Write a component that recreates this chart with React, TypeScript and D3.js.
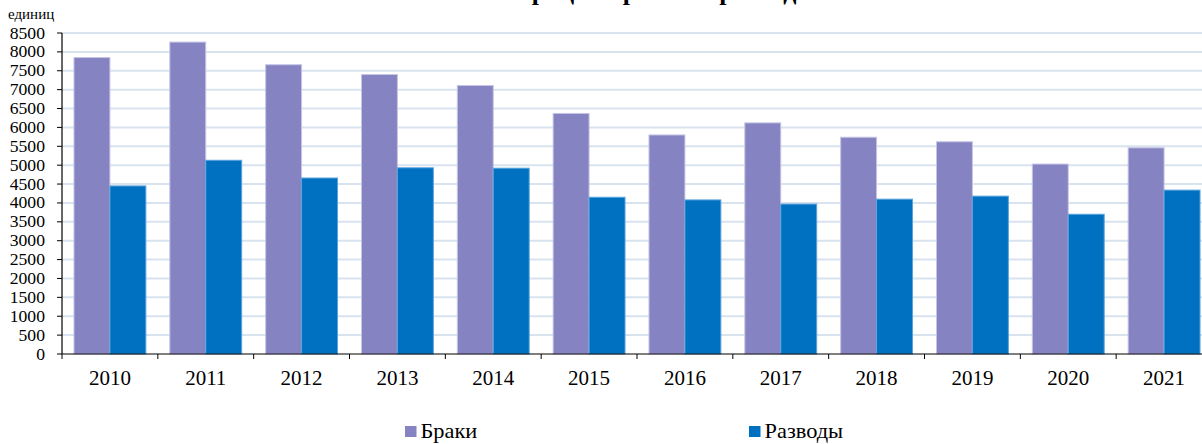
import React from 'react';
import * as d3 from 'd3';

const years = ['2010', '2011', '2012', '2013', '2014', '2015', '2016', '2017', '2018', '2019', '2020', '2021'];
const braki = [7850, 8260, 7660, 7400, 7110, 6370, 5800, 6120, 5740, 5620, 5030, 5460];
const razvody = [4450, 5130, 4660, 4930, 4920, 4150, 4080, 3970, 4100, 4180, 3700, 4340];
const seriesNames = ['Браки', 'Разводы'];
const yTicks = d3.range(0, 8501, 500);

const width = 1202;
const height = 444;
const margin = { top: 33, left: 62, bottom: 90 };
const plotRight = 1212; // plot runs past the window edge, like the source image
const font = 'Liberation Serif, Times New Roman, DejaVu Serif, serif';
const colors = ['#8583c1', '#0070c0'];
const strokes = ['#c6c5e6', '#5aa3dc'];

export default function App() {
    const x = d3.scaleBand<string>()
        .domain(years)
        .range([margin.left, plotRight])
        .paddingInner(0.25)
        .paddingOuter(0.125);
    const step = x.step();
    const xs = d3.scaleBand<string>().domain(seriesNames).range([0, x.bandwidth()]);
    const y = d3.scaleLinear().domain([0, 8500]).range([height - margin.bottom, margin.top]);
    const y0 = y(0);

    const series = [braki, razvody];

    return (
        <div style={{ position: 'absolute', left: 0, top: 0 }}>
            <svg width={width} height={height} style={{ display: 'block', background: '#fff', fontFamily: font }}>
                {/* title, mostly cut off at the top like in the source */}
                <text x={638} y={0} textAnchor="middle" fontWeight="bold" fontSize={26}>
                    Регистрация браков и разводов
                </text>
                <text x={8} y={19} fontSize={15}>единиц</text>

                {/* grid */}
                {yTicks.filter(t => t > 0).map(t => (
                    <line key={t} x1={margin.left} x2={width} y1={y(t)} y2={y(t)}
                        stroke="#d9e3f0" strokeWidth={2} />
                ))}

                {/* bars */}
                {series.map((vals, si) => vals.map((v, i) => (
                    <rect key={si + '-' + i}
                        x={(x(years[i]) as number) + (xs(seriesNames[si]) as number)}
                        y={y(v)}
                        width={xs.bandwidth()}
                        height={y0 - y(v)}
                        fill={colors[si]}
                        stroke={strokes[si]}
                        strokeWidth={1} />
                )))}

                {/* y axis */}
                <line x1={margin.left} x2={margin.left} y1={y(8500)} y2={y0} stroke="#000" strokeWidth={1.2} />
                {yTicks.map(t => (
                    <g key={t}>
                        <line x1={margin.left - 5} x2={margin.left} y1={y(t)} y2={y(t)} stroke="#000" />
                        <text transform={`translate(45,${y(t) + 5.5}) scale(1.07,1)`} textAnchor="end"
                            fontSize={16.5}>{t}</text>
                    </g>
                ))}

                {/* x axis */}
                <line x1={margin.left} x2={width} y1={y0} y2={y0} stroke="#000" strokeWidth={1.2} />
                {d3.range(years.length + 1).map(k => (
                    <line key={k} x1={margin.left + k * step} x2={margin.left + k * step}
                        y1={y0} y2={y0 + 5} stroke="#000" />
                ))}
                {years.map(yr => (
                    <text key={yr} x={(x(yr) as number) + x.bandwidth() / 2} y={385}
                        textAnchor="middle" fontSize={21}>{yr}</text>
                ))}

                {/* legend */}
                {seriesNames.map((name, i) => {
                    const lx = i === 0 ? 405 : 749;
                    return (
                        <g key={name}>
                            <rect x={lx} y={426} width={11.5} height={11} fill={colors[i]} />
                            <text transform={`translate(${lx + 15.5},437.5) scale(1.12,1)`}
                                fontSize={20}>{name}</text>
                        </g>
                    );
                })}
            </svg>
        </div>
    );
}
